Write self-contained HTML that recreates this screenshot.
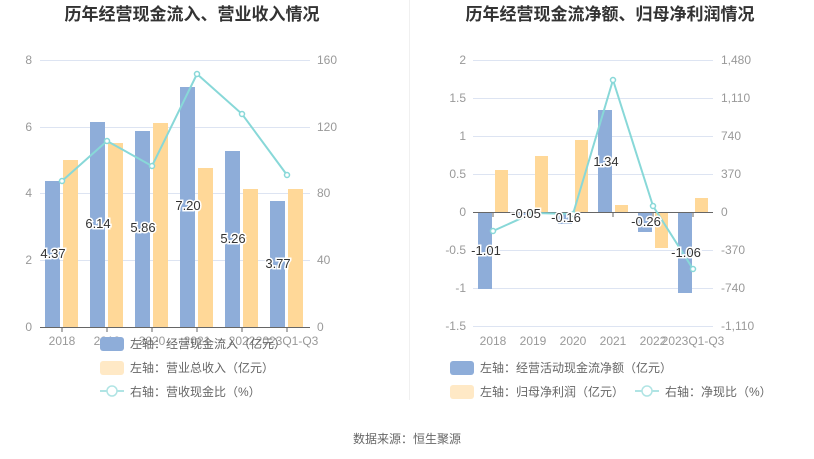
<!DOCTYPE html>
<html><head><meta charset="utf-8"><style>
html,body{margin:0;padding:0;background:#fff;}
svg{display:block;font-family:"Liberation Sans","Noto Sans CJK SC",sans-serif;}
.t{font-size:12px;fill:#999;}
.lg{font-size:12px;fill:#666;}
.lb{font-size:13px;fill:#333;stroke:#fff;stroke-width:3px;paint-order:stroke;}
</style></head><body>
<svg width="814" height="459" viewBox="0 0 814 459">
<text x="192" y="20" text-anchor="middle" font-size="17" font-weight="bold" fill="#333">历年经营现金流入、营业收入情况</text>
<text x="610" y="20" text-anchor="middle" font-size="17" font-weight="bold" fill="#333">历年经营现金流净额、归母净利润情况</text>
<line x1="409.5" y1="0" x2="409.5" y2="400" stroke="#f0f0f0"/>
<!-- LEFT CHART -->
<g stroke="#dde4f2" stroke-width="1">
<line x1="40" y1="60.5" x2="310" y2="60.5"/><line x1="40" y1="127.5" x2="310" y2="127.5"/>
<line x1="40" y1="193.5" x2="310" y2="193.5"/><line x1="40" y1="260.5" x2="310" y2="260.5"/>
</g>
<g class="t" text-anchor="end">
<text x="32" y="64">8</text><text x="32" y="131">6</text><text x="32" y="197">4</text><text x="32" y="264">2</text><text x="32" y="331">0</text>
</g>
<g class="t">
<text x="317" y="64">160</text><text x="317" y="131">120</text><text x="317" y="197">80</text><text x="317" y="264">40</text><text x="317" y="331">0</text>
</g>
<g fill="#8eadd9">
<rect x="45" y="181" width="15" height="146"/><rect x="90" y="122" width="15" height="205"/>
<rect x="135" y="131" width="15" height="196"/><rect x="180" y="87" width="15" height="240"/>
<rect x="225" y="151" width="15" height="176"/><rect x="270" y="201" width="15" height="126"/>
</g>
<g fill="#ffd898">
<rect x="63" y="160" width="15" height="167"/><rect x="108" y="143" width="15" height="184"/>
<rect x="153" y="123" width="15" height="204"/><rect x="198" y="168" width="15" height="159"/>
<rect x="243" y="189" width="15" height="138"/><rect x="288" y="189" width="15" height="138"/>
</g>
<line x1="40" y1="327.5" x2="310" y2="327.5" stroke="#666"/>
<g stroke="#666"><line x1="62" y1="327" x2="62" y2="332"/><line x1="107" y1="327" x2="107" y2="332"/><line x1="152" y1="327" x2="152" y2="332"/><line x1="197" y1="327" x2="197" y2="332"/><line x1="242" y1="327" x2="242" y2="332"/><line x1="287" y1="327" x2="287" y2="332"/></g>
<g class="t" text-anchor="middle">
<text x="62" y="345">2018</text><text x="107" y="345">2019</text><text x="152" y="345">2020</text><text x="197" y="345">2021</text><text x="242" y="345">2022</text><text x="287" y="345">2023Q1-Q3</text>
</g>
<polyline points="62,181 107,141 152,166 197,74 242,114 287,175" fill="none" stroke="#88d8d8" stroke-width="2"/>
<g fill="#fff" stroke="#88d8d8" stroke-width="1.5">
<circle cx="62" cy="181" r="2.5"/><circle cx="107" cy="141" r="2.5"/><circle cx="152" cy="166" r="2.5"/><circle cx="197" cy="74" r="2.5"/><circle cx="242" cy="114" r="2.5"/><circle cx="287" cy="175" r="2.5"/>
</g>
<g class="lb" text-anchor="middle">
<text x="53" y="258">4.37</text><text x="98" y="228">6.14</text><text x="143" y="232">5.86</text><text x="188" y="210">7.20</text><text x="233" y="243">5.26</text><text x="278" y="268">3.77</text>
</g>
<rect x="100" y="337" width="24" height="14" rx="3" fill="#8eadd9"/>
<text class="lg" x="130" y="348">左轴：经营现金流入（亿元）</text>
<rect x="100" y="361" width="24" height="14" rx="3" fill="#ffe9c6"/>
<text class="lg" x="130" y="372">左轴：营业总收入（亿元）</text>
<line x1="100" y1="391" x2="124" y2="391" stroke="#b0e4e4" stroke-width="2"/><circle cx="112" cy="391" r="5" fill="#fff" stroke="#b0e4e4" stroke-width="1.5"/>
<text class="lg" x="130" y="396">右轴：营收现金比（%）</text>
<!-- RIGHT CHART -->
<g stroke="#dde4f2">
<line x1="473" y1="60.5" x2="713" y2="60.5"/><line x1="473" y1="98.5" x2="713" y2="98.5"/><line x1="473" y1="136.5" x2="713" y2="136.5"/><line x1="473" y1="174.5" x2="713" y2="174.5"/><line x1="473" y1="250.5" x2="713" y2="250.5"/><line x1="473" y1="288.5" x2="713" y2="288.5"/><line x1="473" y1="326.5" x2="713" y2="326.5"/>
</g>
<g class="t" text-anchor="end">
<text x="466" y="64">2</text><text x="466" y="102">1.5</text><text x="466" y="140">1</text><text x="466" y="178">0.5</text><text x="466" y="216">0</text><text x="466" y="254">-0.5</text><text x="466" y="292">-1</text><text x="466" y="330">-1.5</text>
</g>
<g class="t">
<text x="721" y="64">1,480</text><text x="721" y="102">1,110</text><text x="721" y="140">740</text><text x="721" y="178">370</text><text x="721" y="216">0</text><text x="721" y="254">-370</text><text x="721" y="292">-740</text><text x="721" y="330">-1,110</text>
</g>
<g fill="#8eadd9">
<rect x="478" y="212" width="14" height="77"/><rect x="518" y="212" width="14" height="4"/><rect x="558" y="212" width="14" height="12"/><rect x="598" y="110" width="14" height="102"/><rect x="638" y="212" width="14" height="20"/><rect x="678" y="212" width="14" height="81"/>
</g>
<g fill="#ffd898">
<rect x="495" y="170" width="13" height="42"/><rect x="535" y="156" width="13" height="56"/><rect x="575" y="140" width="13" height="72"/><rect x="615" y="205" width="13" height="7"/><rect x="655" y="212" width="13" height="36"/><rect x="695" y="198" width="13" height="14"/>
</g>
<line x1="473" y1="212.5" x2="713" y2="212.5" stroke="#666"/>
<g stroke="#666"><line x1="493" y1="212" x2="493" y2="217"/><line x1="533" y1="212" x2="533" y2="217"/><line x1="573" y1="212" x2="573" y2="217"/><line x1="613" y1="212" x2="613" y2="217"/><line x1="653" y1="212" x2="653" y2="217"/><line x1="693" y1="212" x2="693" y2="217"/></g>
<g class="t" text-anchor="middle">
<text x="493" y="345">2018</text><text x="533" y="345">2019</text><text x="573" y="345">2020</text><text x="613" y="345">2021</text><text x="653" y="345">2022</text><text x="693" y="345">2023Q1-Q3</text>
</g>
<polyline points="493,231 533,213 573,214 613,80 653,206 693,269" fill="none" stroke="#88d8d8" stroke-width="2"/>
<g fill="#fff" stroke="#88d8d8" stroke-width="1.5">
<circle cx="493" cy="231" r="2.5"/><circle cx="533" cy="213" r="2.5"/><circle cx="573" cy="214" r="2.5"/><circle cx="613" cy="80" r="2.5"/><circle cx="653" cy="206" r="2.5"/><circle cx="693" cy="269" r="2.5"/>
</g>
<g class="lb" text-anchor="middle">
<text x="486" y="255">-1.01</text><text x="526" y="218">-0.05</text><text x="566" y="222">-0.16</text><text x="606" y="166">1.34</text><text x="646" y="226">-0.26</text><text x="686" y="257">-1.06</text>
</g>
<rect x="450" y="361" width="24" height="14" rx="3" fill="#8eadd9"/>
<text class="lg" x="480" y="372">左轴：经营活动现金流净额（亿元）</text>
<rect x="450" y="385" width="24" height="14" rx="3" fill="#ffe9c6"/>
<text class="lg" x="480" y="396">左轴：归母净利润（亿元）</text>
<line x1="635" y1="391" x2="659" y2="391" stroke="#b0e4e4" stroke-width="2"/><circle cx="647" cy="391" r="5" fill="#fff" stroke="#b0e4e4" stroke-width="1.5"/>
<text class="lg" x="665" y="396">右轴：净现比（%）</text>
<text x="407" y="443" text-anchor="middle" font-size="12" fill="#666">数据来源：恒生聚源</text>
</svg>
</body></html>
